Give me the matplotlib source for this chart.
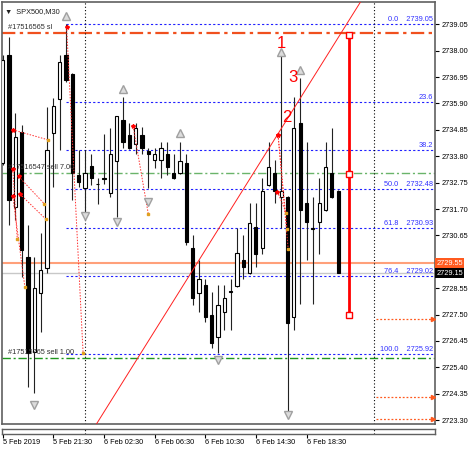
import numpy as np
import matplotlib.pyplot as plt

plt.rcParams['font.family'] = ['Liberation Sans', 'DejaVu Sans']

# SPX500 M30 bars, left to right
opens = [2733.53, 2737.83, 2731.78, 2734.76, 2729.79, 2726.01, 2728.36, 2729.35, 2734.72, 2736.08,
         2737.83, 2737.07, 2733.05, 2732.53, 2733.41, 2732.70, 2732.93, 2732.34, 2733.61, 2735.24,
         2734.64, 2734.29, 2734.64, 2734.01, 2733.65, 2733.65, 2733.89, 2733.13, 2733.13, 2733.53,
         2730.15, 2728.36, 2728.67, 2727.48, 2726.60, 2727.60, 2728.38, 2728.63, 2729.67, 2729.15,
         2730.98, 2730.15, 2732.65, 2733.13, 2732.18, 2732.18, 2727.40, 2735.12, 2731.94, 2730.92,
         2731.18, 2731.66, 2733.13, 2732.42]
highs = [2737.83, 2738.54, 2735.52, 2735.04, 2731.06, 2729.79, 2730.74, 2735.76, 2736.12, 2737.83,
         2739.05, 2737.10, 2734.05, 2734.05, 2733.89, 2732.93, 2734.68, 2734.92, 2735.42, 2736.16,
         2735.12, 2735.12, 2734.96, 2734.13, 2734.13, 2734.37, 2734.37, 2733.89, 2734.37, 2733.89,
         2730.66, 2729.67, 2728.91, 2728.40, 2728.67, 2728.67, 2728.91, 2730.94, 2730.66, 2731.94,
         2731.94, 2732.93, 2734.37, 2733.65, 2738.03, 2732.20, 2736.16, 2736.91, 2734.37, 2732.18,
         2732.93, 2734.37, 2734.92, 2732.45]
lows = [2733.45, 2731.06, 2731.26, 2728.99, 2724.62, 2724.38, 2726.80, 2729.15, 2732.57, 2734.05,
        2736.75, 2732.06, 2732.57, 2731.54, 2732.65, 2731.90, 2732.69, 2732.18, 2731.38, 2734.13,
        2734.10, 2733.89, 2733.89, 2732.53, 2733.33, 2732.93, 2733.05, 2732.90, 2733.10, 2730.27,
        2727.88, 2727.60, 2727.20, 2726.17, 2725.97, 2726.88, 2726.88, 2728.60, 2728.91, 2729.10,
        2729.39, 2729.91, 2732.62, 2731.94, 2730.94, 2723.62, 2726.88, 2727.92, 2729.67, 2727.92,
        2729.91, 2731.62, 2732.15, 2729.15]
closes = [2737.63, 2732.06, 2734.56, 2730.07, 2725.97, 2728.55, 2729.27, 2734.05, 2735.80, 2737.55,
          2736.83, 2733.13, 2732.77, 2733.13, 2732.93, 2732.68, 2732.91, 2733.89, 2735.40, 2734.37,
          2734.13, 2734.92, 2734.13, 2733.89, 2733.89, 2734.13, 2733.37, 2732.93, 2733.61, 2730.39,
          2728.16, 2728.91, 2727.40, 2726.37, 2727.88, 2728.16, 2728.42, 2729.95, 2729.39, 2731.14,
          2729.91, 2732.42, 2733.37, 2732.42, 2732.42, 2727.16, 2734.92, 2731.66, 2731.18, 2730.96,
          2731.94, 2733.37, 2732.18, 2729.15]

time_ticks = [0, 8, 16, 24, 32, 40, 48]
time_labels = ["5 Feb 2019", "5 Feb 21:30", "6 Feb 02:30", "6 Feb 06:30",
               "6 Feb 10:30", "6 Feb 14:30", "6 Feb 18:30"]
price_ticks = [2723.30, 2724.35, 2725.40, 2726.45, 2727.50, 2728.55, 2729.60, 2730.65,
               2731.70, 2732.75, 2733.80, 2734.85, 2735.90, 2736.95, 2738.00, 2739.05]
price_labels = ["2723.30", "2724.35", "2725.40", "2726.45", "2727.50", "2728.55", "", "2730.65",
                "2731.70", "2732.75", "2733.80", "2734.85", "2735.90", "2736.95", "2738.00", "2739.05"]

# fibonacci retracement
fib_levels = ["0.0", "23.6", "38.2", "50.0", "61.8", "76.4", "100.0"]
fib_prices = [2739.05, 2735.95, 2734.03, 2732.48, 2730.93, 2729.02, 2725.92]
fib_show_price = [True, False, False, True, True, True, True]
fib_start = 10

# order lines
order_prices = [2738.69, 2733.14, 2725.76]
order_labels = ["#17516565 sl", "#17516547 sell 7.00", "#17515765 sell 1.00"]
order_colors = ["#f0501e", "#6ab46a", "#1e961e"]

ask_price, bid_price = 2729.55, 2729.15
separators = [13, 58.66]

trend_pts = [(15, 2723.22), (45, 2735.30)]
measure_x = 54.7
measure_prices = [2738.62, 2733.08, 2727.48]
target_prices = [2727.32, 2724.21, 2723.33]
target_x = [59.0, 68.0]

fractal_up_x = [10, 19, 28, 44, 47]
fractal_up_y = [2739.38, 2736.48, 2734.72, 2737.95, 2737.23]
fractal_dn_x = [5, 13, 18, 23, 34, 45]
fractal_dn_y = [2723.91, 2731.42, 2731.18, 2731.98, 2725.69, 2723.51]

# closed trades: (x0, p0, x1, p1)
trades = [(1.6, 2734.85, 7.2, 2734.45), (2.5, 2733.0, 6.6, 2731.9), (2.7, 2732.3, 6.8, 2731.3),
          (1.6, 2733.3, 2.3, 2730.5), (1.6, 2732.2, 3.5, 2728.6), (10.1, 2738.94, 12.7, 2725.97),
          (20.6, 2735.0, 23.0, 2731.5), (43.5, 2734.64, 44.9, 2730.9), (43.5, 2734.64, 45.1, 2730.1),
          (43.4, 2732.39, 44.8, 2731.54)]

wave_labels = ["1", "2", "3"]
wave_x = [44.0, 44.9, 45.8]
wave_y = [2738.30, 2735.33, 2736.95]

FS = 5.3

fig = plt.figure(figsize=(4.71, 4.51), dpi=100)
ax = fig.add_axes([2 / 471, 27 / 451, 433 / 471, 422 / 451])
ax2 = fig.add_axes([2 / 471, 17 / 451, 433 / 471, 5.5 / 451])

x = np.arange(len(opens))
o, h, l, c = map(np.array, (opens, highs, lows, closes))
up = c >= o
ax.vlines(x, l, h, color="#222222", lw=0.8, zorder=3)
lo = np.minimum(o, c)
ht = np.abs(c - o)
ax.bar(x[up], ht[up], bottom=lo[up], width=0.5, color="white", edgecolor="black", lw=0.8, zorder=4)
ax.bar(x[~up], ht[~up], bottom=lo[~up], width=0.5, color="black", edgecolor="black", lw=0.8, zorder=4)

xmin, xmax = -0.11, 68.29
ax.set_xlim(xmin, xmax)
ax.set_ylim(2723.145, 2739.937)
ax2.set_xlim(xmin, xmax)

# fibo
for lv, p, show in zip(fib_levels, fib_prices, fib_show_price):
    ax.plot([fib_start, xmax], [p, p], color="#2020ff", lw=0.8, ls=(0, (2, 2)), zorder=2)
    txt = f"{lv}    {p:.2f}" if show else lv
    ax.text(0.995, p + 0.04, txt, transform=ax.get_yaxis_transform(), ha="right", va="bottom",
            fontsize=FS, color="#3030ff", zorder=6)

# orders
for p, lab, col in zip(order_prices, order_labels, order_colors):
    ax.axhline(p, color=col, lw=1.6 if col == "#f0501e" else 1.0, ls=(0, (6, 2, 1.5, 2)), zorder=2)
    ax.text(0.85, p + 0.08, lab, ha="left", va="bottom", fontsize=FS, color="#303030", zorder=6)

ax.axhline(ask_price, color="#ffa07a", lw=1.5, zorder=1)
ax.axhline(bid_price, color="#c8c8c8", lw=1.0, zorder=1)

for s in separators:
    ax.axvline(s, color="black", lw=0.8, ls=(0, (1, 2)), zorder=2)
    ax2.axvline(s, color="black", lw=0.8, ls=(0, (1, 2)))

ax.axline(trend_pts[0], trend_pts[1], color="#ff2020", lw=0.7, zorder=5)

ax.plot([measure_x] * 3, measure_prices, color="red", lw=2, zorder=6)
ax.plot([measure_x] * 3, measure_prices, ls="none", marker="s", ms=4, mfc="white", mec="red", mew=1, zorder=7)

for p in target_prices:
    ax.plot(target_x, [p, p], color="#ff5a1f", lw=0.9, ls=(0, (1.5, 1.5)), zorder=5)
    ax.plot(target_x[1], p, marker=">", ms=3, color="#ff5a1f", zorder=5)

for x0, p0, x1, p1 in trades:
    ax.plot([x0, x1], [p0, p1], color="#ff3030", lw=0.7, ls=(0, (1.5, 1.5)), zorder=5)
    ax.plot(x0, p0, marker="*", ms=3, color="red", zorder=6)
    ax.plot(x1, p1, marker="s", ms=1.5, color="#e0a020", zorder=6)

ax.plot(fractal_up_x, fractal_up_y, ls="none", marker="^", ms=6, mfc="#dcdcdc", mec="#a0a0a0", zorder=6)
ax.plot(fractal_dn_x, fractal_dn_y, ls="none", marker="v", ms=6, mfc="#dcdcdc", mec="#a0a0a0", zorder=6)

for t, wx, wy in zip(wave_labels, wave_x, wave_y):
    ax.text(wx, wy, t, color="red", fontsize=12, ha="center", va="center", zorder=8)

ax.text(0.008, 0.985, "\u25bc  SPX500,M30", transform=ax.transAxes, ha="left", va="top",
        fontsize=FS, color="#202020")

# price scale
ax.yaxis.tick_right()
ax.set_yticks(price_ticks)
ax.set_yticklabels(price_labels)
ax.tick_params(axis="y", labelsize=FS, length=3, width=0.8, pad=1.5)
ax.set_xticks([])
for p, fc in [(ask_price, "#ff5a1f"), (bid_price, "black")]:
    ax.text(1.003, p, f"{p:.2f}", transform=ax.get_yaxis_transform(), ha="left", va="center",
            fontsize=FS, color="white", clip_on=False,
            bbox=dict(boxstyle="square,pad=0.2", fc=fc, ec="none"))

for sp in ax.spines.values():
    sp.set_color("#606060")
    sp.set_linewidth(1.2)

ax2.set_yticks([])
ax2.set_xticks(time_ticks)
ax2.set_xticklabels(time_labels)
ax2.tick_params(axis="x", labelsize=FS, length=3, width=0.8, pad=0.8)
for lab in ax2.get_xticklabels():
    lab.set_horizontalalignment("left")
for sp in ax2.spines.values():
    sp.set_color("#606060")
    sp.set_linewidth(1.0)

fig.savefig("out.png", dpi=100)
